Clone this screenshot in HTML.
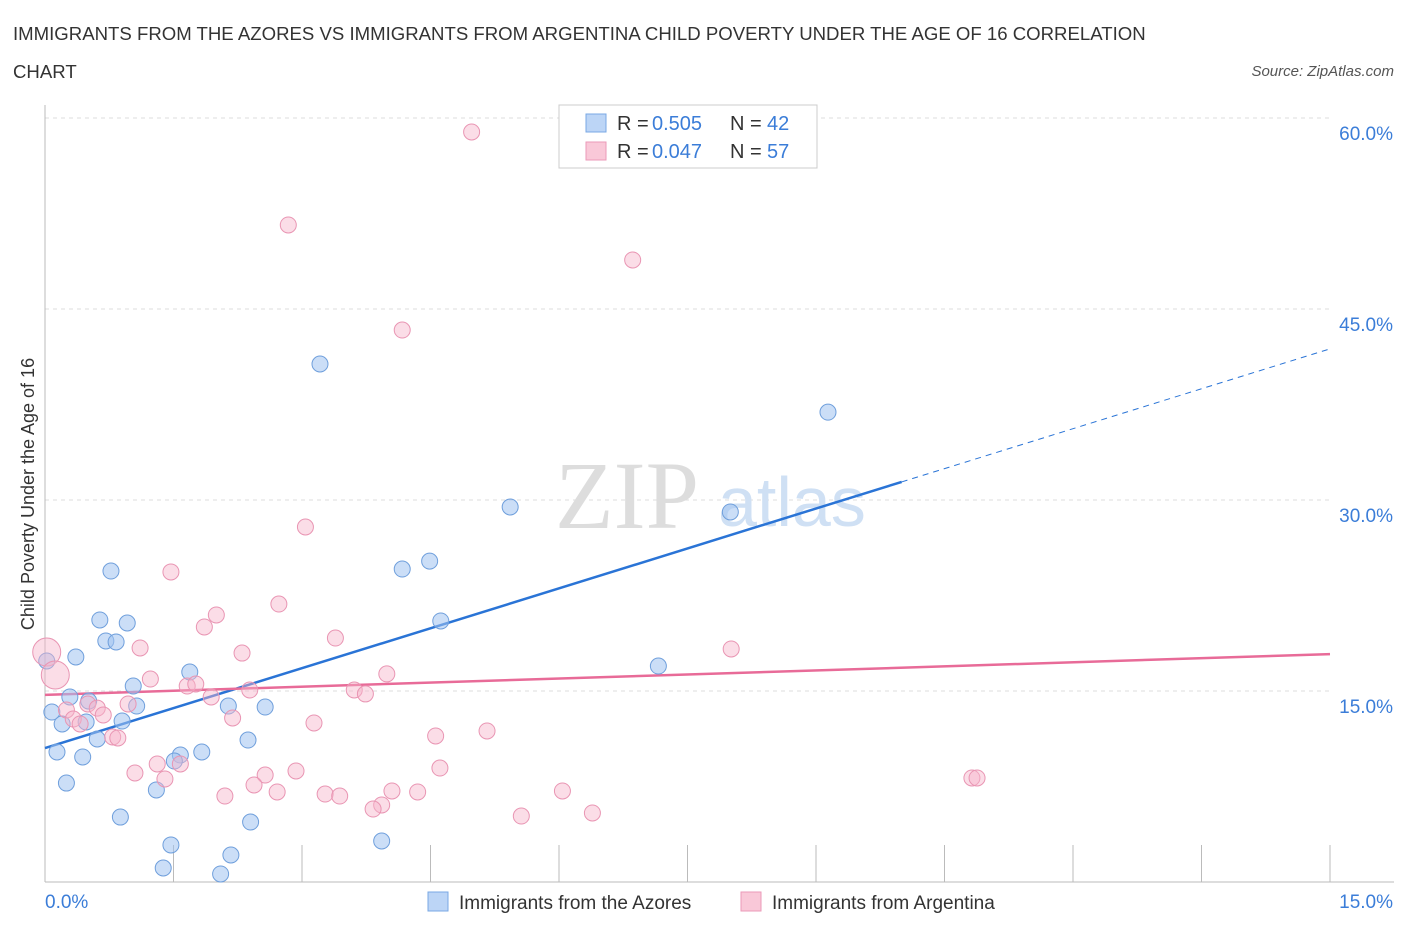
<!DOCTYPE html>
<html><head><meta charset="utf-8"><style>
body{margin:0;background:#fff;font-family:"Liberation Sans",sans-serif;}
</style></head><body>
<svg id="chart" width="1406" height="930" xmlns="http://www.w3.org/2000/svg" font-family="Liberation Sans, sans-serif">
<text x="13" y="40" font-size="18.6" fill="#333">IMMIGRANTS FROM THE AZORES VS IMMIGRANTS FROM ARGENTINA CHILD POVERTY UNDER THE AGE OF 16 CORRELATION</text>
<text x="13" y="78" font-size="18.6" fill="#333">CHART</text>
<text x="1394" y="76" font-size="15" fill="#555" text-anchor="end" font-style="italic">Source: ZipAtlas.com</text>
<g id="grid"></g>
<g>
<text x="555" y="528" font-size="96" fill="#ddd" font-family="Liberation Serif, serif">ZIP</text>
<text x="718" y="526" font-size="70" fill="#cfe0f4">atlas</text>
</g>
<g id="lines"></g>
<g id="points"></g>
<g>
<rect x="559" y="105" width="258" height="63" fill="#fff" stroke="#ccc"/>
<rect x="586" y="114" width="20" height="18" fill="#bcd5f6" stroke="#7aa8e4"/>
<text x="617" y="130" font-size="20" fill="#333">R =</text>
<text x="652" y="130" font-size="20" fill="#3b7dd8">0.505</text>
<text x="730" y="130" font-size="20" fill="#333">N =</text>
<text x="767" y="130" font-size="20" fill="#3b7dd8">42</text>
<rect x="586" y="142" width="20" height="18" fill="#f9c8d8" stroke="#eb9ab8"/>
<text x="617" y="158" font-size="20" fill="#333">R =</text>
<text x="652" y="158" font-size="20" fill="#3b7dd8">0.047</text>
<text x="730" y="158" font-size="20" fill="#333">N =</text>
<text x="767" y="158" font-size="20" fill="#3b7dd8">57</text>
</g>
<g>
<rect x="428" y="892" width="20" height="19" fill="#bcd5f6" stroke="#7aa8e4"/>
<text x="459" y="909" font-size="19" fill="#333">Immigrants from the Azores</text>
<rect x="741" y="892" width="20" height="19" fill="#f9c8d8" stroke="#eb9ab8"/>
<text x="772" y="909" font-size="19" fill="#333">Immigrants from Argentina</text>
</g>
<text transform="translate(34,494) rotate(-90)" font-size="18" fill="#333" text-anchor="middle">Child Poverty Under the Age of 16</text>
</svg>
<script>
const yTicks=[15,30,45,60];
const yTickLabels=["15.0%","30.0%","45.0%","60.0%"];
const xTickValues=[0,1.5,3,4.5,6,7.5,9,10.5,12,13.5,15];
const xEndLabels=["0.0%","15.0%"];
const azoresX=[3.21,9.14,5.43,8.0,4.49,4.17,0.77,4.62,0.64,0.96,0.71,0.83,0.02,0.36,7.16,1.69,1.03,0.29,0.51,1.07,2.14,2.57,0.08,0.9,0.2,0.48,0.61,2.37,0.14,1.83,1.58,1.51,0.44,0.25,1.3,0.88,2.4,3.93,1.47,2.17,1.38,2.05];
const azoresY=[40.68,36.9,29.45,29.06,25.2,24.58,24.42,20.5,20.58,20.34,18.93,18.85,17.36,17.67,16.96,16.49,15.39,14.53,14.21,13.82,13.82,13.74,13.35,12.64,12.41,12.57,11.23,11.15,10.21,10.21,9.97,9.5,9.82,7.77,7.23,5.1,4.71,3.22,2.91,2.12,1.1,0.63];
const argX=[4.98,2.84,6.86,4.17,3.04,1.47,2.73,2.0,1.86,3.39,1.11,2.3,8.01,0.02,0.12,3.99,1.23,1.66,1.76,2.39,3.61,3.74,1.94,0.5,0.97,0.25,0.61,0.68,0.33,0.41,2.19,3.14,5.16,4.56,0.79,0.85,1.31,1.58,4.61,2.93,1.05,2.57,1.4,10.82,10.88,2.44,2.1,2.71,3.27,3.44,4.05,4.35,6.04,3.93,3.83,5.56,6.39];
const argY=[58.9,51.6,48.85,43.35,27.88,24.35,21.83,20.97,20.03,19.16,18.38,17.98,18.3,18.06,16.26,16.34,15.94,15.39,15.55,15.08,15.08,14.77,14.53,13.98,13.98,13.51,13.66,13.12,12.8,12.41,12.88,12.49,11.86,11.47,11.39,11.31,9.27,9.27,8.95,8.72,8.56,8.4,8.09,8.17,8.17,7.62,6.75,7.07,6.91,6.75,7.15,7.07,7.15,6.05,5.73,5.18,5.42];
const argBig=[0,0,0,0,0,0,0,0,0,0,0,0,0,1,1,0,0,0,0,0,0,0,0,0,0,0,0,0,0,0,0,0,0,0,0,0,0,0,0,0,0,0,0,0,0,0,0,0,0,0,0,0,0,0,0,0,0];
const azoresTrend=[10.52,2.09];
const argTrend=[14.7,0.213];
const NS="http://www.w3.org/2000/svg";
const X0=45,X1=1330,Y0=882,PX=191/15;
const sx=v=>X0+(v/15)*(X1-X0);
const sy=v=>Y0-v*PX;
function mk(tag,attrs,parent){const e=document.createElementNS(NS,tag);for(const k in attrs)e.setAttribute(k,attrs[k]);parent.appendChild(e);return e;}
const grid=document.getElementById('grid');
yTicks.forEach((t,i)=>{
 const l=mk('line',{x1:X0,x2:X1,y1:sy(t),y2:sy(t),stroke:'#ddd','stroke-dasharray':'4,4'},grid);
 
 
 const tx=mk('text',{x:1393,y:sy(t)+22,'font-size':19,fill:'#3b7dd8','text-anchor':'end'},grid);
 tx.textContent=yTickLabels[i];
 
 
});
const ax=mk('line',{x1:X0,x2:X0,y1:105,y2:Y0,stroke:'#bbb'},grid);


const bx=mk('line',{x1:X0,x2:1394,y1:Y0,y2:Y0,stroke:'#bbb'},grid);


xTickValues.forEach(v=>{
 const t=mk('line',{x1:sx(v),x2:sx(v),y1:Y0,y2:Y0-37,stroke:'#bbb'},grid);
 
 
});
const xl0=mk('text',{x:45,y:908,'font-size':19,fill:'#3b7dd8'},grid);xl0.textContent=xEndLabels[0];


const xl1=mk('text',{x:1393,y:908,'font-size':19,fill:'#3b7dd8','text-anchor':'end'},grid);xl1.textContent=xEndLabels[1];


const pts=document.getElementById('points');
azoresX.forEach((v,i)=>{
 const c=mk('circle',{cx:sx(v),cy:sy(azoresY[i]),r:8,fill:'rgba(160,195,240,0.55)',stroke:'#6f9fdc','stroke-width':1},pts);
 
 
});
argX.forEach((v,i)=>{
 const c=mk('circle',{cx:sx(v),cy:sy(argY[i]),r:argBig[i]?14:8,fill:'rgba(246,180,202,0.45)',stroke:'#e995b3','stroke-width':1},pts);
 
 
});
const lines=document.getElementById('lines');
const f=(tr,x)=>tr[0]+tr[1]*x;
const b1=mk('line',{x1:sx(0),y1:sy(f(azoresTrend,0)),x2:sx(10),y2:sy(f(azoresTrend,10)),stroke:'#2a74d6','stroke-width':2.5},lines);


const b2=mk('line',{x1:sx(10),y1:sy(f(azoresTrend,10)),x2:sx(15),y2:sy(f(azoresTrend,15)),stroke:'#2a74d6','stroke-width':1,'stroke-dasharray':'6,5'},lines);


const p1=mk('line',{x1:sx(0),y1:sy(f(argTrend,0)),x2:sx(15),y2:sy(f(argTrend,15)),stroke:'#e86b98','stroke-width':2.5},lines);


</script>
</body></html>
